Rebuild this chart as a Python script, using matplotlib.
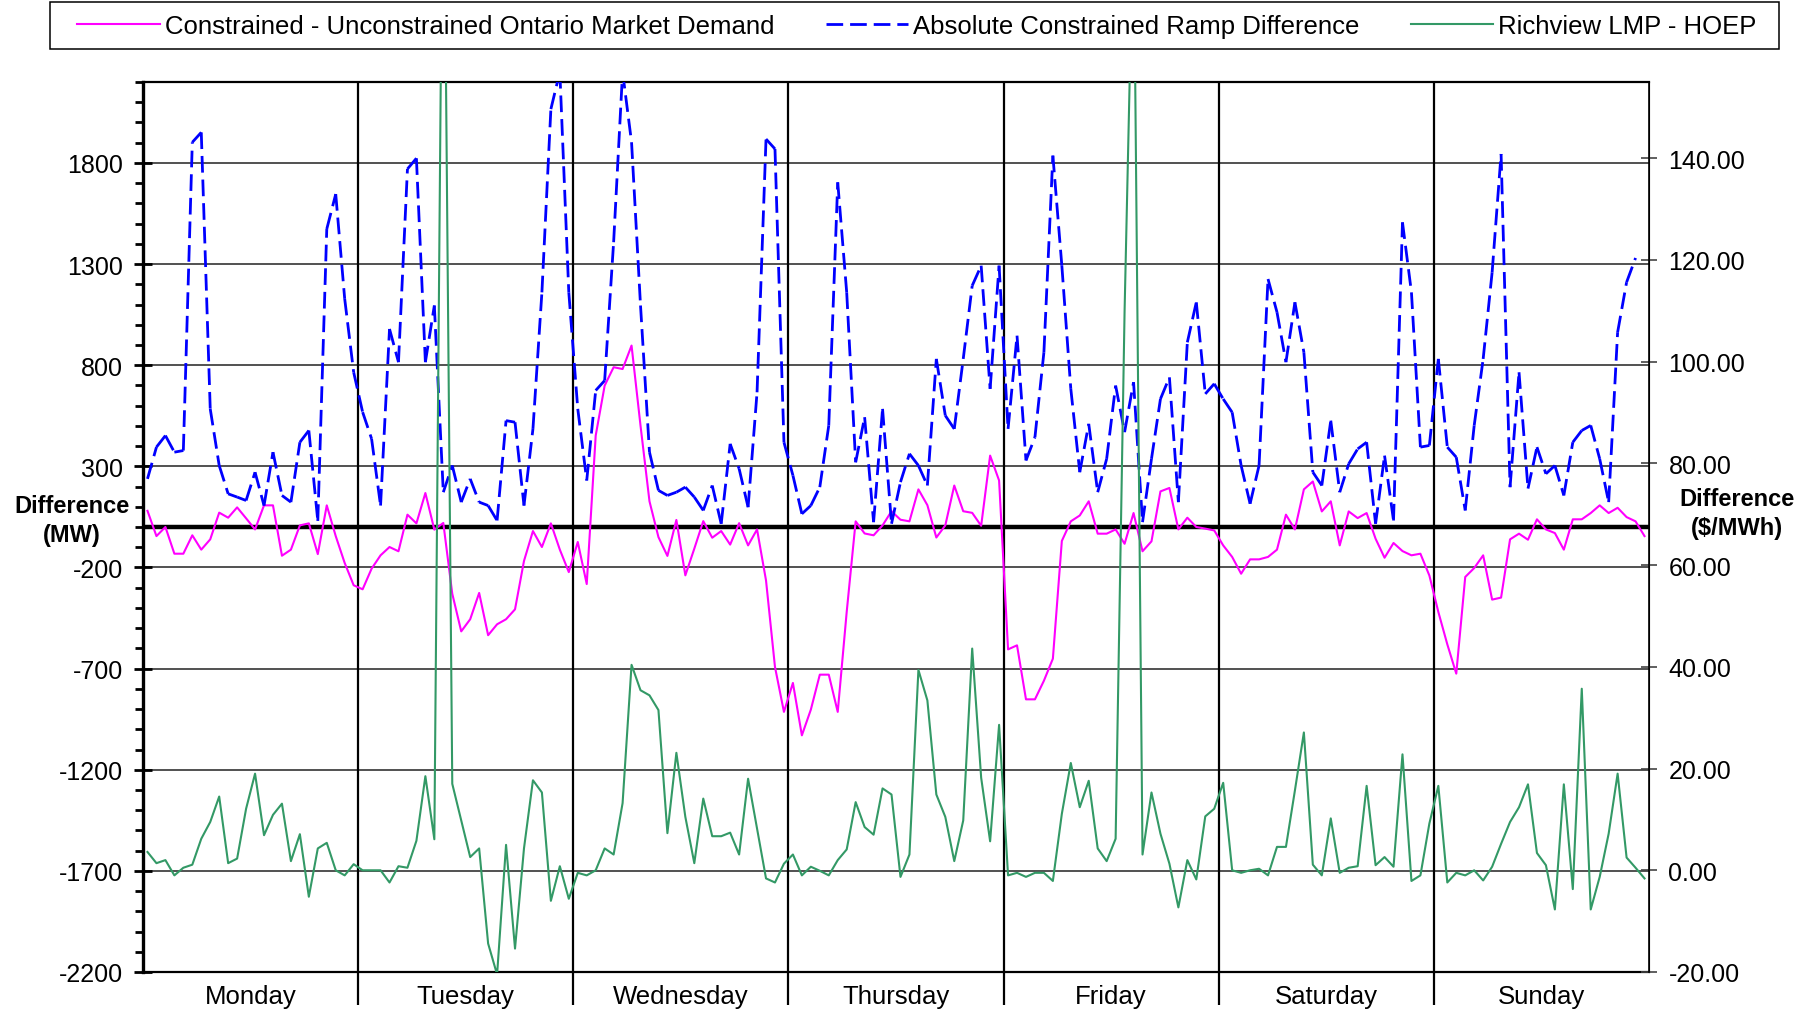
import numpy as np
import matplotlib
matplotlib.use("Agg")
import matplotlib.pyplot as plt
from matplotlib.collections import LineCollection
from matplotlib.lines import Line2D
from matplotlib.patches import Rectangle
from matplotlib.ticker import MultipleLocator

plt.rcParams['font.family'] = ['Liberation Sans', 'DejaVu Sans']
plt.rcParams['axes.unicode_minus'] = False

days = ['Monday', 'Tuesday', 'Wednesday', 'Thursday', 'Friday', 'Saturday', 'Sunday']

# Constrained - Unconstrained Ontario Market Demand (MW), hourly
demand_diff = [
    80, -45, 0, -132, -132, -41, -112, -61, 71, 46, 97, 43,
    -12, 107, 107, -142, -112, 8, 18, -134, 107, -45, -178, -288,
    -308, -206, -140, -99, -120, 61, 18, 168, -13, 20, -330, -516,
    -456, -326, -535, -481, -456, -407, -168, -20, -99, 18, -112, -223,
    -74, -282, 452, 699, 790, 781, 897, 501, 127, -50, -143, 35,
    -239, -107, 29, -53, -20, -87, 19, -91, -12, -264, -692, -914,
    -771, -1030, -903, -730, -730, -914, -420, 28, -32, -41, 8, 78,
    36, 28, 186, 108, -52, 8, 205, 78, 70, 6, 353, 230,
    -605, -585, -852, -852, -760, -651, -69, 28, 57, 127, -33, -33,
    -12, -83, 69, -120, -71, 176, 193, -12, 46, 0, -8, -17,
    -91, -148, -231, -160, -160, -148, -112, 61, -12, 186, 225, 77,
    127, -91, 77, 44, 69, -58, -152, -79, -119, -140, -132, -240,
    -420, -580, -725, -247, -203, -140, -359, -349, -61, -33, -63, 38,
    -12, -30, -112, 38, 38, 69, 107, 69, 95, 49, 28, -45,
]

# Absolute Constrained Ramp Difference (MW), one value per hour-to-hour ramp
ramp_diff = [
    238, 395, 452, 370, 378, 1902, 1951, 584, 304, 164, 148, 131,
    271, 106, 370, 156, 123, 419, 477, 30, 1473, 1646, 1128, 765,
    568, 436, 106, 979, 815, 1770, 1823, 815, 1095, 172, 304, 123,
    238, 123, 106, 32, 526, 518, 106, 485, 1160, 2066, 2250, 1160,
    584, 230, 675, 724, 1408, 2250, 1902, 1095, 370, 181, 156, 172,
    197, 148, 82, 205, 16, 411, 288, 98, 666, 1918, 1869, 419,
    255, 65, 106, 197, 502, 1704, 1160, 320, 543, 24, 584, 16,
    222, 362, 304, 205, 831, 551, 485, 831, 1193, 1292, 683, 1292,
    485, 946, 329, 444, 864, 1836, 1292, 683, 271, 510, 172, 337,
    699, 469, 716, 24, 337, 633, 740, 123, 913, 1111, 658, 708,
    633, 567, 304, 115, 304, 1226, 1062, 815, 1111, 864, 271, 205,
    526, 172, 312, 386, 419, 16, 353, 32, 1506, 1160, 395, 403,
    831, 395, 345, 82, 502, 831, 1259, 1844, 197, 765, 190, 395,
    263, 304, 156, 419, 477, 502, 337, 123, 963, 1210, 1330,
]

# Richview LMP - HOEP ($/MWh), hourly
price_diff = [
    3.6, 1.4, 2.0, -1.0, 0.5, 1.1, 6.2, 9.5, 14.5, 1.4, 2.3, 12.1,
    19.0, 6.9, 10.9, 13.1, 1.8, 7.1, -5.2, 4.3, 5.4, 0.0, -1.0, 1.2,
    0.0, 0.0, 0.0, -2.4, 0.8, 0.5, 5.8, 18.5, 6.1, 215.0, 17.0, 9.8,
    2.6, 4.3, -14.4, -20.5, 5.0, -15.4, 4.3, 17.7, 15.3, -6.0, 0.8, -5.6,
    -0.5, -1.0, 0.0, 4.3, 3.1, 13.2, 40.4, 35.4, 34.4, 31.5, 7.3, 23.1,
    10.5, 1.4, 14.1, 6.7, 6.7, 7.4, 3.1, 18.0, 8.2, -1.6, -2.4, 1.3,
    3.1, -1.0, 0.7, -0.1, -1.0, 2.0, 4.1, 13.4, 8.5, 7.0, 16.1, 14.9,
    -1.3, 3.1, 39.4, 33.4, 14.9, 10.5, 1.8, 9.8, 43.6, 18.2, 5.7, 28.6,
    -1.0, -0.5, -1.3, -0.5, -0.5, -2.1, 11.1, 21.1, 12.4, 17.6, 4.3, 1.8,
    6.2, 110.0, 190.0, 3.1, 15.3, 7.2, 1.3, -7.3, 2.0, -1.8, 10.6, 12.1,
    17.2, 0.0, -0.5, 0.0, 0.3, -1.0, 4.6, 4.6, 15.7, 27.1, 1.1, -1.0,
    10.2, -0.5, 0.5, 0.8, 16.6, 1.0, 2.6, 0.7, 22.8, -2.1, -1.0, 9.2,
    16.6, -2.4, -0.5, -1.0, 0.0, -2.0, 0.7, 5.2, 9.5, 12.4, 16.9, 3.4,
    1.0, -7.7, 16.9, -3.7, 35.7, -7.7, -1.3, 7.2, 19.0, 2.5, 0.5, -1.6,
]

MAGENTA = '#FF00FF'
BLUE = '#0000FF'
GREEN = '#339966'
BLUE_DASH = (0, (6, 2.5))

hours = np.arange(len(demand_diff)) + 0.5
day_edges = np.arange(24, 168, 24)
day_mid = np.arange(12, 168, 24)

fig = plt.figure(figsize=(18.13, 10.12), dpi=100)
ax = fig.add_axes([143 / 1813, 1 - 973 / 1012, 1506 / 1813, 890 / 1012])
ax2 = ax.twinx()

ax.set_xlim(0, 168)
ax.set_ylim(-2200, 2200)
ax2.set_ylim(-20, 155)

# grid, zero line and day separators
ax.set_yticks(np.arange(-2200, 2201, 500))
ax.yaxis.set_minor_locator(MultipleLocator(100))
ax.yaxis.grid(True, color='#333333', lw=1.2, zorder=0)
ax.set_axisbelow(True)
ax.axhline(0, color='black', lw=3.2, zorder=2)
for d in day_edges:
    ax.axvline(d, color='black', lw=1.6, zorder=1.5)

# series
ax.plot(hours, demand_diff, color=MAGENTA, lw=1.5, zorder=3)

# Excel restarts the dash pattern at every point, so draw ramp segments separately
pts = np.column_stack([hours[:len(ramp_diff)], ramp_diff])
segs = np.stack([pts[:-1], pts[1:]], axis=1)
ax.add_collection(LineCollection(segs, colors=BLUE, linewidths=2,
                                 linestyles=[BLUE_DASH], zorder=3))

ax2.plot(hours, price_diff, color=GREEN, lw=1.5)

# x axis: day names between the separators
ax.set_xticks(day_edges)
ax.set_xticklabels([''] * len(day_edges))
ax.set_xticks(day_mid, minor=True)
ax.set_xticklabels(days, minor=True)
ax.tick_params(axis='x', which='major', length=24, width=1.6, direction='out')
ax.tick_params(axis='x', which='minor', length=0, pad=9, labelsize=18.5)

# left axis
ax.tick_params(axis='y', which='major', direction='inout', length=13, width=2,
               pad=8, labelsize=18)
ax.tick_params(axis='y', which='minor', direction='out', length=6, width=2)

# right axis
ax2.set_yticks(np.arange(-20, 141, 20))
ax2.yaxis.set_major_formatter('{x:.2f}')
ax2.tick_params(axis='y', direction='inout', length=12, width=1.2, pad=8,
                labelsize=18, color='#444444')

ax.spines['left'].set_linewidth(2.4)
ax.spines['top'].set_linewidth(1.6)
ax.spines['bottom'].set_linewidth(1.6)
ax2.spines['right'].set_linewidth(1.2)
for s in ['left', 'top', 'bottom']:
    ax2.spines[s].set_visible(False)

fig.text(72 / 1813, 1 - 521 / 1012, 'Difference\n(MW)', ha='center', va='center',
         fontsize=17, fontweight='bold', linespacing=1.35)
fig.text(1737 / 1813, 1 - 514 / 1012, 'Difference\n($/MWh)', ha='center', va='center',
         fontsize=17, fontweight='bold', linespacing=1.35)

# legend across the top, in its own box
handles = [
    Line2D([], [], color=MAGENTA, lw=1.5),
    Line2D([], [], color=BLUE, lw=2, ls=BLUE_DASH),
    Line2D([], [], color=GREEN, lw=1.5),
]
labels = ['Constrained - Unconstrained Ontario Market Demand',
          'Absolute Constrained Ramp Difference',
          'Richview LMP - HOEP']
fig.add_artist(Rectangle((50 / 1813, 1 - 50 / 1012), 1729 / 1813, 47 / 1012,
                         transform=fig.transFigure, fill=False, ec='black', lw=1.1))
fig.legend(handles, labels, loc='center', bbox_to_anchor=(917 / 1813, 1 - 27 / 1012),
           ncol=3, frameon=False, fontsize=18.5, handlelength=3.2,
           handletextpad=0.2, columnspacing=2.0, borderpad=0.2)

fig.savefig('out.png', dpi=100)
